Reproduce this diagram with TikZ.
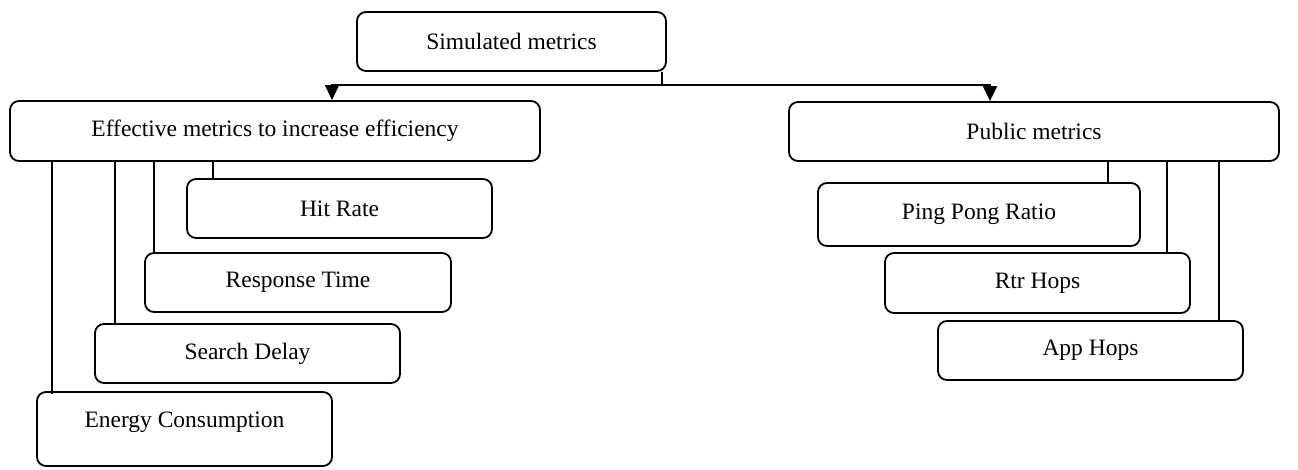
\documentclass[tikz,border=0pt]{standalone}
\usepackage{fontspec}
\setmainfont{Liberation Serif}
\usetikzlibrary{arrows.meta}
\begin{document}
\begin{tikzpicture}[x=1pt,y=-1pt,
  lbl/.style={font=\fontsize{23.5}{28}\selectfont},
  box/.style={draw, line width=1.8pt, rounded corners=9pt, inner sep=0pt, lbl, align=center},
  conn/.style={line width=1.5pt},
  arr/.style={conn, -{Triangle[length=15pt,width=14pt]}}]
\useasboundingbox (0,0) rectangle (1298,470);
\node[box, minimum width=309pt, minimum height=59pt] (sim) at (511.5,41.5) {Simulated metrics};
\node[box, minimum width=530pt, minimum height=60pt] (eff) at (275,131) {Effective metrics to increase efficiency};
\node[box, minimum width=490pt, minimum height=59pt] (pub) at (1034,131.5) {Public metrics};
\node[box, minimum width=305pt, minimum height=59pt] (hr) at (339.5,208.5) {Hit Rate};
\node[box, minimum width=306pt, minimum height=59pt] (rt) at (298,282.5) {Response Time};
\node[box, minimum width=305pt, minimum height=59pt] (sd) at (247.5,353.5) {Search Delay};
\node[box, minimum width=295pt, minimum height=74pt, label={[lbl, yshift=7pt]center:Energy Consumption}] (ec) at (184.5,429) {};
\node[box, minimum width=322pt, minimum height=63pt] (pp) at (979,214.5) {Ping Pong Ratio};
\node[box, minimum width=305pt, minimum height=60pt] (rh) at (1037.5,283) {Rtr Hops};
\node[box, minimum width=305pt, minimum height=59pt] (ah) at (1090.5,350.5) {App Hops};
% top connectors
\coordinate (jm) at (662,85);
\coordinate (jl) at (332,85);
\coordinate (jr) at (990,85);
\draw[conn] (sim.south -| jm) -- (jm);
\draw[arr] (jm) -- (jl) -- (eff.north -| jl);
\draw[arr] (jm) -- (jr) -- (pub.north -| jr);
% left connectors
\draw[conn] (eff.south -| 52,0) -- ([yshift=-3pt]ec.north -| 52,0);
\draw[conn] (eff.south -| 115,0) -- (sd.north -| 115,0);
\draw[conn] (eff.south -| 154,0) -- (rt.north -| 154,0);
\draw[conn] (eff.south -| 213,0) -- ([yshift=-2pt]hr.north -| 213,0);
% right connectors
\draw[conn] (pub.south -| 1108,0) -- ([yshift=-2pt]pp.north -| 1108,0);
\draw[conn] (pub.south -| 1167,0) -- (rh.north -| 1167,0);
\draw[conn] (pub.south -| 1219,0) -- ([yshift=-2pt]ah.north -| 1219,0);
\end{tikzpicture}
\end{document}
